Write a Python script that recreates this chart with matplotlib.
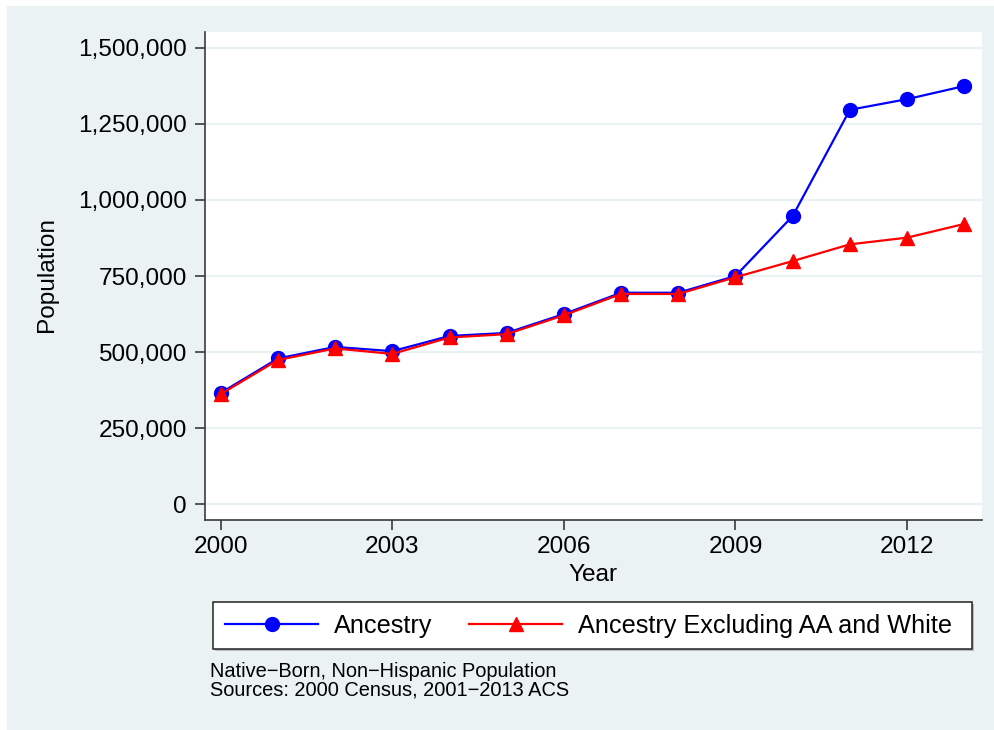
import matplotlib
matplotlib.use("Agg")
import matplotlib.pyplot as plt
from matplotlib.patches import Rectangle
from matplotlib.ticker import FuncFormatter

plt.rcParams['font.family'] = ['Liberation Sans', 'DejaVu Sans']

# Native-born, non-Hispanic population by year
years = [2000, 2001, 2002, 2003, 2004, 2005, 2006,
         2007, 2008, 2009, 2010, 2011, 2012, 2013]
ancestry = [366000, 479000, 517000, 503000, 553000, 563000, 625000,
            695000, 695000, 750000, 947000, 1296000, 1331000, 1374000]
ancestry_excl = [362000, 474000, 512000, 494000, 548000, 559000, 621000,
                 691000, 691000, 746000, 799000, 854000, 876000, 921000]

series_labels = ["Ancestry", "Ancestry Excluding AA and White"]
x_ticks = [2000, 2003, 2006, 2009, 2012]
y_ticks = [0, 250000, 500000, 750000, 1000000, 1250000, 1500000]
note_lines = ["Native\u2212Born, Non\u2212Hispanic Population",
              "Sources: 2000 Census, 2001\u22122013 ACS"]

W, H = 994, 730
BG = '#eaf2f3'
AXC = '#3a3a3a'
FS = 17.6
LFS = 18.2

fig = plt.figure(figsize=(W / 100, H / 100), dpi=100, facecolor='white')

# outer graph region
fig.patches.append(Rectangle((7 / W, 0), (W - 7) / W, (H - 6) / H,
                             transform=fig.transFigure, facecolor=BG,
                             edgecolor='none', zorder=-10))

ax = fig.add_axes([205 / W, 1 - 520 / H, 777 / W, 488 / H])
ax.set_facecolor('white')

ax.plot(years, ancestry, color='#0000ff', linewidth=1.6, marker='o',
        markersize=10, label=series_labels[0], zorder=3)
ax.plot(years, ancestry_excl, color='#ff0000', linewidth=1.6, marker='^',
        markersize=10.5, label=series_labels[1], zorder=4)

ax.set_xlim(1999.725, 2013.31)
ax.set_ylim(-51600, 1551600)
ax.set_xticks(x_ticks)
ax.set_yticks(y_ticks)
ax.yaxis.set_major_formatter(FuncFormatter(lambda v, p: f"{int(v):,}"))

for s in ('top', 'right'):
    ax.spines[s].set_visible(False)
for s in ('left', 'bottom'):
    ax.spines[s].set_color(AXC)
    ax.spines[s].set_linewidth(1.2)

ax.tick_params(axis='both', direction='out', length=7.2, width=1.2,
               color=AXC, labelsize=FS, labelcolor='black')
ax.tick_params(axis='x', pad=4.5)
ax.tick_params(axis='y', pad=6)

ax.yaxis.grid(True, color=BG, linewidth=1.6)
ax.xaxis.grid(False)
ax.set_axisbelow(True)

fig.text(593.5 / W, 1 - 580.7 / H, "Year", ha='center', va='baseline',
         fontsize=FS)
fig.text(47 / W, 1 - 275 / H, "Population", ha='center', va='center',
         rotation=90, fontsize=FS)

# legend box with a faint shadow
fig.patches.append(Rectangle((215 / W, 1 - 651 / H), 759 / W, 47 / H,
                             transform=fig.transFigure, facecolor='#b8bcbd',
                             edgecolor='none', zorder=1))
fig.patches.append(Rectangle((213 / W, 1 - 649 / H), 759 / W, 47 / H,
                             transform=fig.transFigure, facecolor='white',
                             edgecolor='#222222', linewidth=1.1, zorder=2))
handles, labels = ax.get_legend_handles_labels()
leg = fig.legend(handles, labels, loc='center left',
                 bbox_to_anchor=(225 / W, 1 - 626 / H), ncol=2,
                 frameon=False, fontsize=LFS, handlelength=3.68,
                 handletextpad=0.63, columnspacing=1.46, borderpad=0,
                 borderaxespad=0)
leg.set_zorder(5)

fig.text(210 / W, 1 - 677 / H, note_lines[0], ha='left', va='baseline',
         fontsize=14.4)
fig.text(210 / W, 1 - 695 / H, note_lines[1], ha='left', va='baseline',
         fontsize=14.4)

fig.savefig("out.png", dpi=100, facecolor=fig.get_facecolor())
